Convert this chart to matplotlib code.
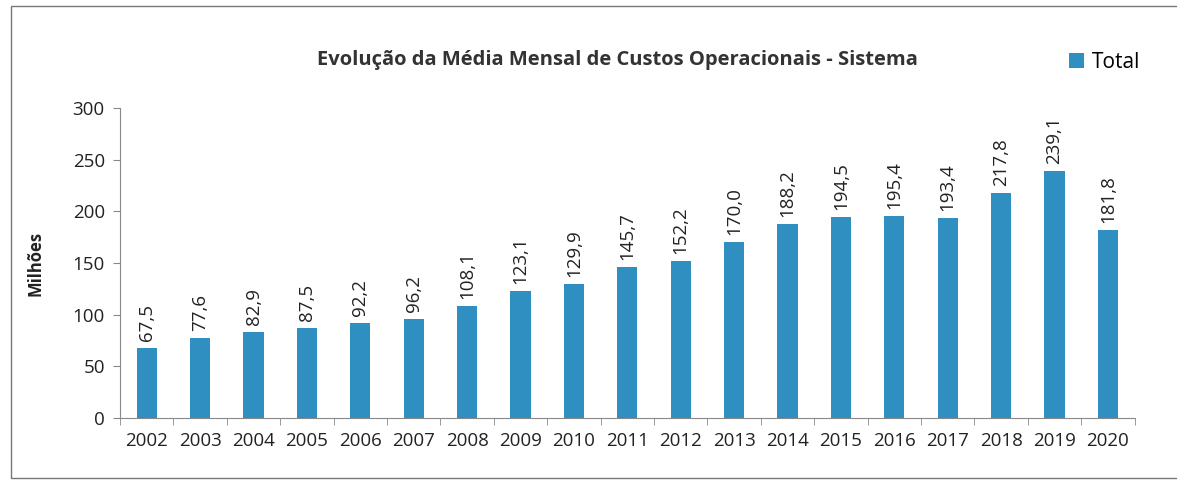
import numpy as np
import matplotlib.pyplot as plt
from matplotlib.patches import Rectangle

plt.rcParams["font.family"] = ["Open Sans", "DejaVu Sans"]

years = ["2002", "2003", "2004", "2005", "2006", "2007", "2008", "2009", "2010",
         "2011", "2012", "2013", "2014", "2015", "2016", "2017", "2018", "2019", "2020"]
totals = [67.5, 77.6, 82.9, 87.5, 92.2, 96.2, 108.1, 123.1, 129.9,
          145.7, 152.2, 170.0, 188.2, 194.5, 195.4, 193.4, 217.8, 239.1, 181.8]
y_ticks = [0, 50, 100, 150, 200, 250, 300]

bar_color = "#2F8FC1"

fig = plt.figure(figsize=(11.77, 4.87), dpi=100)
ax = fig.add_axes([0.102, 0.142, 0.862, 0.636])

x = np.arange(len(years))
ax.bar(x, totals, width=0.38, color=bar_color, label="Total", zorder=2)

for xi, v in zip(x, totals):
    ax.annotate(f"{v:.1f}".replace(".", ","), (xi, v), xytext=(0, 5),
                textcoords="offset points", rotation=90, ha="center", va="bottom",
                fontsize=13.5, color="#222222")

ax.set_xlim(-0.5, len(years) - 0.5)
ax.set_ylim(0, 300)
ax.set_yticks(y_ticks)
ax.set_xticks(x)
ax.set_xticklabels(years)
ax.set_xticks(np.arange(-0.5, len(years)), minor=True)
ax.tick_params(axis="x", which="major", length=0, pad=10, labelsize=13.5, colors="#222222")
ax.tick_params(axis="x", which="minor", length=5, color="#888888")
ax.tick_params(axis="y", length=5, color="#888888", labelsize=13.5, labelcolor="#222222", pad=6)

for side in ["top", "right"]:
    ax.spines[side].set_visible(False)
for side in ["left", "bottom"]:
    ax.spines[side].set_color("#888888")

ax.set_ylabel("Milhões", fontsize=12, fontweight="bold", labelpad=20, color="#222222")

fig.text(0.525, 0.877, "Evolução da Média Mensal de Custos Operacionais - Sistema",
         ha="center", va="center", fontsize=14.5, fontweight="bold", color="#333333")

ax.legend(loc="center right", bbox_to_anchor=(0.969, 0.872), bbox_transform=fig.transFigure,
          frameon=False, fontsize=15, handlelength=0.7, handleheight=0.7, handletextpad=0.4,
          borderpad=0, borderaxespad=0)

fig.patches.append(Rectangle((0.009, 0.018), 1.2, 0.97, transform=fig.transFigure,
                             fill=False, edgecolor="#777777", linewidth=1))

fig.savefig("out.png", dpi=100)
